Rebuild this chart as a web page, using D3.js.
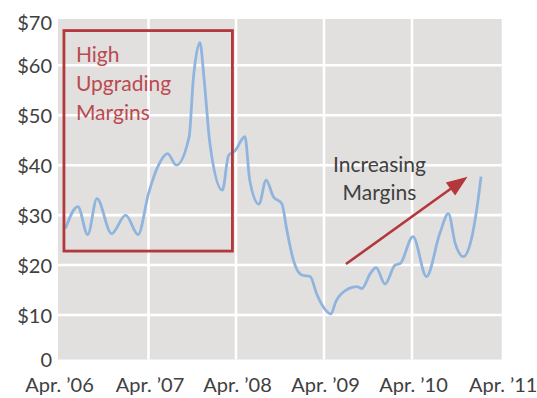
<!DOCTYPE html>
<html>
<head>
<meta charset="utf-8">
<script src="https://cdn.jsdelivr.net/npm/d3@7"></script>
<style>
  html, body { margin: 0; padding: 0; background: #ffffff; }
  svg { display: block; }
  text { font-family: Lato, "Open Sans", sans-serif; }
</style>
</head>
<body>
<svg id="chart" width="537" height="398"></svg>
<script>
// Upgrading margin, $ per barrel
const dates = [
  "2006-05-01", "2006-06-20", "2006-07-30", "2006-09-05", "2006-11-03", "2006-12-30",
  "2007-02-18", "2007-04-01", "2007-05-10", "2007-06-20", "2007-07-26", "2007-09-18",
  "2007-10-05", "2007-11-02", "2007-11-20", "2007-12-14", "2008-02-04", "2008-03-01",
  "2008-03-28", "2008-05-08", "2008-05-28", "2008-07-05", "2008-08-04", "2008-09-03",
  "2008-10-08", "2008-10-29", "2008-11-25", "2008-12-30", "2009-02-03", "2009-03-01",
  "2009-03-28", "2009-04-30", "2009-05-20", "2009-06-13", "2009-08-15", "2009-09-05",
  "2009-10-10", "2009-11-03", "2009-12-10", "2010-01-21", "2010-02-11", "2010-04-05",
  "2010-05-30", "2010-07-23", "2010-08-27", "2010-09-24", "2010-10-27", "2010-12-01",
  "2010-12-20", "2011-01-07"
];
const margins = [
  27.3, 31.7, 26.1, 33.3, 26.3, 30.0,
  26.1, 34.3, 39.7, 42.3, 40.0, 45.7,
  57.0, 64.9, 57.0, 44.3, 35.0, 42.0,
  42.9, 45.7, 37.0, 32.2, 37.0, 33.7,
  32.3, 27.0, 21.0, 18.0, 17.7, 14.3,
  11.7, 10.2, 12.7, 14.3, 15.7, 15.3,
  18.3, 19.5, 16.2, 20.0, 20.3, 25.7,
  17.7, 26.3, 30.3, 24.3, 21.7, 25.7,
  31.0, 37.7
];

const yTicks = [0, 10, 20, 30, 40, 50, 60, 70];
const yTickLabels = ["0", "$10", "$20", "$30", "$40", "$50", "$60", "$70"];
const xTicks = ["2006-04-01", "2007-04-01", "2008-04-01", "2009-04-01", "2010-04-01", "2011-04-01"];
const xTickLabels = ["Apr. \u201906", "Apr. \u201907", "Apr. \u201908", "Apr. \u201909", "Apr. \u201910", "Apr. \u201911"];

// Annotations, in data units
const boxCorners = [["2006-04-25", 67.5], ["2008-03-17", 22.8]];
const boxLines = ["High", "Upgrading", "Margins"];
const arrowEnds = [["2009-07-01", 20.2], ["2010-11-13", 37.7]];
const arrowLines = ["Increasing", "Margins"];

const parse = d3.timeParse("%Y-%m-%d");
const series = dates.map((d, i) => ({ date: parse(d), value: margins[i] }));

const svg = d3.select("#chart");
const plotLeft = 58, plotRight = 501.7, plotTop = 19, plotBottom = 359.5;

const x = d3.scaleTime()
  .domain(xTicks.map(parse))
  .range([plotLeft, 148.5, 236, 324, 412, plotRight]);

const y = d3.scaleLinear()
  .domain([0, 10, 60, 70])
  .range([plotBottom, 315, 65.3, plotTop]);

// plot background
svg.append("rect")
  .attr("x", plotLeft).attr("y", plotTop)
  .attr("width", plotRight - plotLeft).attr("height", plotBottom - plotTop)
  .attr("fill", "#e2e0df");

// gridlines
const grid = svg.append("g").attr("stroke", "#ffffff").attr("stroke-width", 2.6);
grid.selectAll("line.h")
  .data(yTicks.slice(1, -1))
  .join("line")
  .attr("x1", plotLeft).attr("x2", plotRight)
  .attr("y1", d => y(d)).attr("y2", d => y(d));
grid.selectAll("line.v")
  .data(xTicks.slice(1, -1).map(parse))
  .join("line")
  .attr("x1", d => x(d)).attr("x2", d => x(d))
  .attr("y1", plotTop).attr("y2", plotBottom);

// y axis labels
const yAxis = d3.axisLeft(y)
  .tickValues(yTicks)
  .tickFormat((d, i) => yTickLabels[i])
  .tickSize(0)
  .tickPadding(0);
const yg = svg.append("g").attr("transform", `translate(${plotLeft - 6},0)`).call(yAxis);
yg.select(".domain").remove();
yg.selectAll("text")
  .attr("fill", "#404040")
  .attr("font-size", 20)
  .attr("dy", d => d === 70 ? "0.52em" : "0.36em");

// x axis labels
const xAxis = d3.axisBottom(x)
  .tickValues(xTicks.map(parse))
  .tickFormat((d, i) => xTickLabels[i])
  .tickSize(0)
  .tickPadding(0);
const xg = svg.append("g").attr("transform", `translate(1,${plotBottom})`).call(xAxis);
xg.select(".domain").remove();
xg.selectAll("text")
  .attr("fill", "#404040")
  .attr("font-size", 20)
  .attr("dy", null)
  .attr("y", 32);

// margin line
const line = d3.line()
  .x(d => x(d.date))
  .y(d => y(d.value))
  .curve(d3.curveMonotoneX);
svg.append("path")
  .datum(series)
  .attr("d", line)
  .attr("fill", "none")
  .attr("stroke", "#8fb4dd")
  .attr("stroke-width", 2.8)
  .attr("stroke-linejoin", "round");

// "High Upgrading Margins" box
const red = "#b4373c";
const bx0 = x(parse(boxCorners[0][0])), by0 = y(boxCorners[0][1]);
const bx1 = x(parse(boxCorners[1][0])), by1 = y(boxCorners[1][1]);
svg.append("rect")
  .attr("x", bx0).attr("y", by0)
  .attr("width", bx1 - bx0).attr("height", by1 - by0)
  .attr("fill", "none")
  .attr("stroke", red)
  .attr("stroke-width", 2.8);
svg.append("g")
  .selectAll("text")
  .data(boxLines)
  .join("text")
  .attr("x", bx0 + 12)
  .attr("y", (d, i) => by0 + 31 + i * 29)
  .attr("fill", "#bb4a50")
  .attr("font-size", 21)
  .text(d => d);

// "Increasing Margins" arrow
const ax0 = x(parse(arrowEnds[0][0])), ay0 = y(arrowEnds[0][1]);
const ax1 = x(parse(arrowEnds[1][0])), ay1 = y(arrowEnds[1][1]);
const ang = Math.atan2(ay1 - ay0, ax1 - ax0);
const headLen = 21, headHalf = 8;
const bxh = ax1 - headLen * Math.cos(ang), byh = ay1 - headLen * Math.sin(ang);
svg.append("line")
  .attr("x1", ax0).attr("y1", ay0)
  .attr("x2", bxh + 2 * Math.cos(ang)).attr("y2", byh + 2 * Math.sin(ang))
  .attr("stroke", red)
  .attr("stroke-width", 2.6);
svg.append("path")
  .attr("d", d3.line()([
    [ax1, ay1],
    [bxh - headHalf * Math.sin(ang), byh + headHalf * Math.cos(ang)],
    [bxh + headHalf * Math.sin(ang), byh - headHalf * Math.cos(ang)]
  ]) + "Z")
  .attr("fill", red);

svg.append("g")
  .selectAll("text")
  .data(arrowLines)
  .join("text")
  .attr("x", 379.5)
  .attr("y", (d, i) => 171.5 + i * 28.5)
  .attr("text-anchor", "middle")
  .attr("fill", "#404040")
  .attr("font-size", 21)
  .text(d => d);
</script>
</body>
</html>
